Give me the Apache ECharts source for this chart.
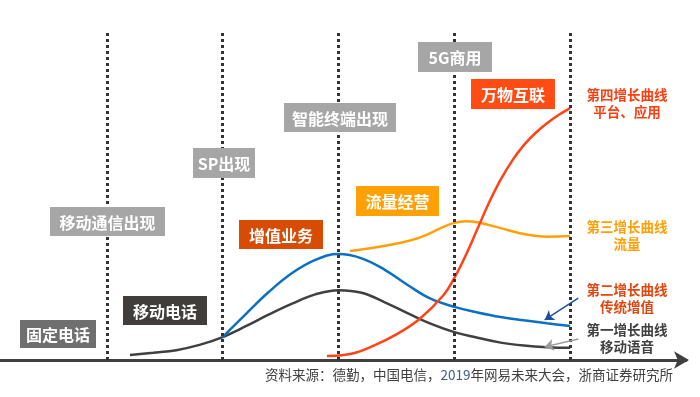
<!DOCTYPE html>
<html>
<head>
<meta charset="utf-8">
<script src="https://cdn.jsdelivr.net/npm/echarts@6/dist/echarts.min.js"></script>
<style>
  html, body { margin: 0; padding: 0; background: #fff; }
  #chart { width: 700px; height: 397px; }
</style>
</head>
<body>
<div id="chart"></div>
<script>
// stage dividers (x in "stage" units, one per era)
const stageDividers = [1, 2, 3, 4, 5];

// curve samples: [stage, level 0..100]
const curveVoice = [[1.2, 1.5], [1.4, 2.2], [1.6, 3.0], [1.8, 4.6], [2.0, 7.0], [2.2, 10.3],
    [2.4, 13.9], [2.6, 17.2], [2.8, 20.0], [3.0, 21.3], [3.2, 20.5], [3.4, 17.6], [3.6, 14.2],
    [3.8, 11.0], [4.0, 8.5], [4.2, 6.8], [4.4, 5.3], [4.6, 4.4], [4.8, 3.9], [5.0, 3.7]];
const curveValueAdded = [[2.0, 7.0], [2.2, 14.0], [2.4, 20.8], [2.6, 26.5], [2.8, 30.5],
    [3.0, 32.3], [3.2, 31.0], [3.4, 27.5], [3.6, 22.8], [3.8, 18.6], [4.0, 16.2], [4.2, 14.5],
    [4.4, 13.1], [4.6, 12.1], [4.8, 11.2], [5.0, 10.4]];
const curveTraffic = [[3.1, 33.2], [3.3, 34.2], [3.5, 35.5], [3.7, 37.3], [3.9, 40.5],
    [4.0, 41.8], [4.1, 42.3], [4.2, 42.0], [4.4, 40.2], [4.6, 38.4], [4.8, 37.6], [5.0, 37.8]];
const curvePlatform = [[2.9, 1.2], [3.1, 1.8], [3.3, 4.3], [3.5, 7.8], [3.7, 12.5], [3.9, 19.5],
    [4.0, 25.0], [4.1, 32.0], [4.2, 40.0], [4.3, 48.0], [4.4, 55.0], [4.5, 60.8], [4.6, 65.5],
    [4.7, 69.2], [4.8, 72.2], [4.9, 74.7], [5.0, 76.8]];

const curveNames = ['第一增长曲线', '第二增长曲线', '第三增长曲线', '第四增长曲线'];
const curveSubNames = ['移动语音', '传统增值', '流量', '平台、应用'];

const eventLabels = ['固定电话', '移动通信出现', '移动电话', 'SP出现', '智能终端出现',
    '增值业务', '流量经营', '5G商用', '万物互联'];
const sourceNote = ['资料来源：德勤，中国电信，', '2019', '年网易未来大会，浙商证券研究所'];

const FONT = '"Noto Sans CJK SC", "Microsoft YaHei", sans-serif';
const curveColors = ['#404040', '#0b70c2', '#ffa00a', '#ff4317'];
const noteColors = ['#404040', '#e2460f', '#ffa00a', '#ff3d0f'];

// box layout for the event labels: [left, top, width, height, fill]
const boxLayout = [
    [20, 320, 76, 28, '#6f6f6f'],
    [50, 207, 115, 29, '#a6a6a6'],
    [123, 296, 84, 29, '#403d3b'],
    [193, 148, 62, 30, '#a6a6a6'],
    [284, 103, 112, 29, '#a6a6a6'],
    [239, 220, 84, 29, '#d84b02'],
    [356, 186, 83, 30, '#ffa005'],
    [418, 42, 74, 30, '#a6a6a6'],
    [471, 79, 84, 30, '#ff4b14'],
];
// centre y of each right-hand note (two lines)
const noteY = [338, 298, 235, 103];

function labelBox(text, box) {
    const [x, y, w, h, fill] = box;
    return {
        type: 'group',
        zlevel: 1,
        children: [
            { type: 'rect', zlevel: 1, shape: { x: x, y: y, width: w, height: h }, style: { fill: fill } },
            {
                type: 'text',
                zlevel: 1,
                x: x + w / 2,
                y: y + h / 2 + 1,
                style: {
                    text: text, fill: '#fff', font: 'bold 16px ' + FONT,
                    align: 'center', verticalAlign: 'middle',
                },
            },
        ],
    };
}

function noteText(i) {
    return {
        type: 'text',
        zlevel: 1,
        x: 627,
        y: noteY[i],
        style: {
            text: curveNames[i] + '\n' + curveSubNames[i],
            fill: noteColors[i],
            font: 'bold 13.5px ' + FONT,
            lineHeight: 17,
            align: 'center',
            verticalAlign: 'middle',
        },
    };
}

function curveSeries(name, data, color, extra) {
    return Object.assign({
        name: name,
        type: 'line',
        data: data,
        smooth: 0.4,
        showSymbol: false,
        silent: true,
        lineStyle: { color: color, width: 2.5 },
        z: 3,
    }, extra || {});
}

const chart = echarts.init(document.getElementById('chart'), null, { renderer: 'canvas' });

const graphics = eventLabels.map((t, i) => labelBox(t, boxLayout[i]))
    .concat([0, 1, 2, 3].map(noteText))
    .concat([{
        type: 'text',
        zlevel: 1,
        right: 27,
        top: 368,
        style: {
            text: '{a|' + sourceNote[0] + '}{b|' + sourceNote[1] + '}{a|' + sourceNote[2] + '}',
            rich: {
                a: { font: '13.5px ' + FONT, fill: '#404040' },
                b: { font: '13.5px ' + FONT, fill: '#3d5a8a' },
            },
        },
    }]);

chart.setOption({
    animation: false,
    backgroundColor: '#fff',
    grid: { left: 0, right: 14, top: 32, bottom: 37 },
    xAxis: {
        type: 'value',
        min: 0.078,
        max: 6.0,
        axisLine: {
            show: true,
            lineStyle: { color: '#404040', width: 3 },
            symbol: ['none', 'arrow'],
            symbolSize: [13, 15],
            symbolOffset: [0, 3],
        },
        axisTick: { show: false },
        axisLabel: { show: false },
        splitLine: { show: false },
    },
    yAxis: {
        type: 'value',
        min: 0,
        max: 100,
        show: false,
    },
    series: [
        curveSeries(curveNames[0], curveVoice, curveColors[0], {
            markLine: {
                silent: true,
                symbol: 'none',
                label: { show: false },
                lineStyle: { color: '#333333', width: 3, type: [3, 3] },
                z: 5,
                data: stageDividers.map((v) => ({ xAxis: v })),
            },
        }),
        curveSeries(curveNames[1], curveValueAdded, curveColors[1], {
            markLine: {
                silent: true,
                symbol: ['none', 'arrow'],
                symbolSize: 9,
                label: { show: false },
                z: 6,
                data: [
                    [{ coord: [5.07, 18.9], lineStyle: { color: '#1f4e9c', width: 1.5, type: 'solid' } },
                        { coord: [4.78, 12.2] }],
                    [{ coord: [5.07, 6.4], lineStyle: { color: '#9a9a9a', width: 1.5, type: 'solid' } },
                        { coord: [4.78, 4.0] }],
                ],
            },
        }),
        curveSeries(curveNames[2], curveTraffic, curveColors[2]),
        curveSeries(curveNames[3], curvePlatform, curveColors[3]),
    ],
    graphic: { zlevel: 1, elements: graphics },
});
</script>
</body>
</html>
